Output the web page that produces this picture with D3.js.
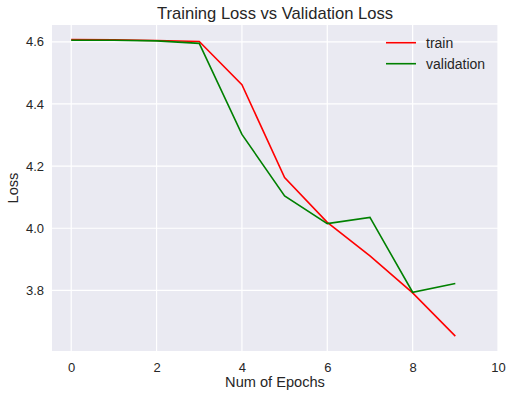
<!DOCTYPE html>
<html>
<head>
<meta charset="utf-8">
<script src="https://cdn.jsdelivr.net/npm/d3@7"></script>
<style>
  body { margin: 0; background: #fff; }
  svg { display: block; font-family: "Liberation Sans", Arial, sans-serif; }
</style>
</head>
<body>
<div id="chart"></div>
<script>
// epochs and loss values
const epochs = [0, 1, 2, 3, 4, 5, 6, 7, 8, 9];
const trainLoss = [4.607, 4.606, 4.604, 4.601, 4.462, 4.163, 4.019, 3.911, 3.792, 3.653];
const valLoss = [4.605, 4.605, 4.603, 4.595, 4.302, 4.104, 4.015, 4.035, 3.794, 3.822];
const xTicks = [0, 2, 4, 6, 8, 10];
const yTicks = [3.8, 4.0, 4.2, 4.4, 4.6];
const series = [
    { name: 'train', values: trainLoss, color: '#ff0000' },
    { name: 'validation', values: valLoss, color: '#008000' }
];

const width = 513, height = 397;
const margin = { top: 25, right: 15, bottom: 46, left: 52 };
const textColor = '#262626';

const svg = d3.select('#chart').append('svg')
    .attr('width', width)
    .attr('height', height);

const x = d3.scaleLinear()
    .domain([-0.45, 10])
    .range([margin.left, width - margin.right]);

const y = d3.scaleLinear()
    .domain([3.605, 4.654])
    .range([height - margin.bottom, margin.top]);

// background
svg.append('rect')
    .attr('x', margin.left)
    .attr('y', margin.top)
    .attr('width', width - margin.left - margin.right)
    .attr('height', height - margin.top - margin.bottom)
    .attr('fill', '#eaeaf2');

// grid
const grid = svg.append('g');
grid.selectAll('.vx')
    .data(xTicks)
    .enter().append('line')
    .attr('x1', d => x(d)).attr('x2', d => x(d))
    .attr('y1', margin.top).attr('y2', height - margin.bottom)
    .attr('stroke', '#fff').attr('stroke-width', 1.2);
grid.selectAll('.hy')
    .data(yTicks)
    .enter().append('line')
    .attr('x1', margin.left).attr('x2', width - margin.right)
    .attr('y1', d => y(d)).attr('y2', d => y(d))
    .attr('stroke', '#fff').attr('stroke-width', 1.2);

// axes (labels only, no domain/ticks as in seaborn darkgrid)
const xAxis = svg.append('g')
    .attr('transform', `translate(0,${height - margin.bottom})`)
    .call(d3.axisBottom(x).tickValues(xTicks).tickFormat(d3.format('d')).tickSize(0).tickPadding(12));
const yAxis = svg.append('g')
    .attr('transform', `translate(${margin.left},0)`)
    .call(d3.axisLeft(y).tickValues(yTicks).tickFormat(d3.format('.1f')).tickSize(0).tickPadding(8));
[xAxis, yAxis].forEach(a => {
    a.select('.domain').remove();
    a.selectAll('text')
        .attr('fill', textColor)
        .style('font-size', '13px')
        .style('font-family', '"Liberation Sans", Arial, sans-serif');
});

// lines
const line = d3.line()
    .x((d, i) => x(epochs[i]))
    .y(d => y(d));

svg.append('g')
    .selectAll('path')
    .data(series)
    .enter().append('path')
    .attr('d', d => line(d.values))
    .attr('fill', 'none')
    .attr('stroke', d => d.color)
    .attr('stroke-width', 1.6);

// title & axis labels
svg.append('text')
    .attr('x', (margin.left + width - margin.right) / 2)
    .attr('y', 19)
    .attr('text-anchor', 'middle')
    .attr('fill', textColor)
    .style('font-size', '16.6px')
    .text('Training Loss vs Validation Loss');

svg.append('text')
    .attr('x', (margin.left + width - margin.right) / 2)
    .attr('y', 387)
    .attr('text-anchor', 'middle')
    .attr('fill', textColor)
    .style('font-size', '14.6px')
    .text('Num of Epochs');

svg.append('text')
    .attr('transform', `translate(18,${(margin.top + height - margin.bottom) / 2}) rotate(-90)`)
    .attr('text-anchor', 'middle')
    .attr('fill', textColor)
    .style('font-size', '14.6px')
    .text('Loss');

// legend
const legend = svg.append('g')
    .selectAll('g')
    .data(series)
    .enter().append('g')
    .attr('transform', (d, i) => `translate(386,${42.7 + i * 21})`);
legend.append('line')
    .attr('x1', 0).attr('x2', 30)
    .attr('stroke', d => d.color)
    .attr('stroke-width', 1.6);
legend.append('text')
    .attr('x', 40)
    .attr('dy', '0.35em')
    .attr('fill', textColor)
    .style('font-size', '14px')
    .text(d => d.name);
</script>
</body>
</html>
